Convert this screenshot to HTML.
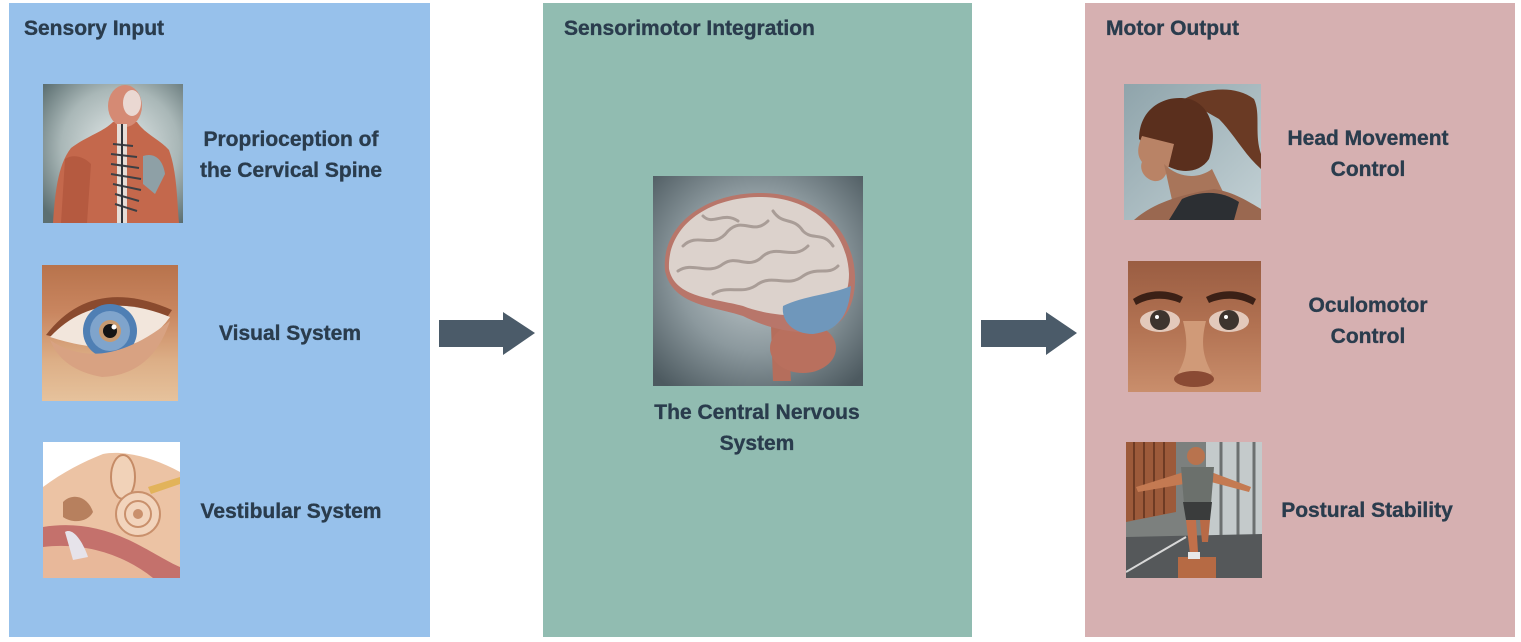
<!DOCTYPE html>
<html><head><meta charset="utf-8"><style>
html,body{margin:0;padding:0;background:#fff;}
body{width:1521px;height:642px;position:relative;overflow:hidden;font-family:"Liberation Sans",Arial,sans-serif;}
.panel{position:absolute;top:3px;height:634px;}
.t{position:absolute;font-weight:bold;font-size:21px;color:#2a3c4d;white-space:nowrap;-webkit-text-stroke:0.35px #2a3c4d;}
.title{line-height:24px;}
.lbl{text-align:center;line-height:31px;transform:translateX(-50%);}
svg{position:absolute;display:block;}
</style></head><body>

<div class="panel" style="left:9px;width:421px;background:#97c1eb;"></div>
<div class="panel" style="left:543px;width:429px;background:#91bcb1;"></div>
<div class="panel" style="left:1085px;width:430px;background:#d6b0b1;"></div>

<div class="t title" style="left:24px;top:17px;">Sensory Input</div>
<div class="t title" style="left:564px;top:17px;">Sensorimotor Integration</div>
<div class="t title" style="left:1106px;top:17px;">Motor Output</div>

<div class="t lbl" style="left:291px;top:124px;">Proprioception of<br>the Cervical Spine</div>
<div class="t lbl" style="left:290px;top:318px;">Visual System</div>
<div class="t lbl" style="left:291px;top:496px;">Vestibular System</div>
<div class="t lbl" style="left:757px;top:397px;">The Central Nervous<br>System</div>
<div class="t lbl" style="left:1368px;top:123px;">Head Movement<br>Control</div>
<div class="t lbl" style="left:1368px;top:290px;">Oculomotor<br>Control</div>
<div class="t lbl" style="left:1367px;top:495px;">Postural Stability</div>

<!-- arrows -->
<svg style="left:0;top:0" width="1521" height="642">
<polygon points="439,320 503,320 503,312 535,333 503,355 503,347 439,347" fill="#4b5b69"/>
<polygon points="981,320 1046,320 1046,312 1077,333 1046,355 1046,347 981,347" fill="#4b5b69"/>
</svg>

<!-- spine image -->
<svg style="left:43px;top:84px" width="140" height="139" viewBox="0 0 140 139">
<defs><radialGradient id="g1" cx="55%" cy="45%" r="70%"><stop offset="0" stop-color="#e4eaea"/><stop offset="0.6" stop-color="#a9b7b7"/><stop offset="1" stop-color="#5c6f71"/></radialGradient></defs>
<rect width="140" height="139" fill="url(#g1)"/>
<path d="M10 139 C12 112 14 82 28 64 C44 52 60 48 70 38 L94 38 C102 50 116 55 126 66 C134 88 134 116 136 139 Z" fill="#c4684c"/>
<path d="M22 75 C30 70 40 72 48 80 L44 139 L18 139 Z" fill="#b55a40"/>
<path d="M100 72 C112 68 120 76 122 90 L112 110 L100 100 Z" fill="#8ea0a6"/>
<ellipse cx="82" cy="22" rx="17" ry="21" fill="#d58a74"/>
<ellipse cx="89" cy="19" rx="9" ry="13" fill="#ead8d2"/>
<rect x="74" y="40" width="10" height="99" fill="#e6ddd6"/>
<g stroke="#3c3f44" stroke-width="2">
<line x1="70" y1="60" x2="90" y2="62"/><line x1="68" y1="70" x2="94" y2="73"/><line x1="68" y1="80" x2="96" y2="84"/><line x1="68" y1="90" x2="98" y2="95"/><line x1="70" y1="100" x2="98" y2="106"/><line x1="72" y1="110" x2="96" y2="117"/><line x1="72" y1="120" x2="94" y2="127"/>
</g>
<line x1="79" y1="40" x2="79" y2="139" stroke="#2f3338" stroke-width="2"/>
</svg>

<!-- eye image -->
<svg style="left:42px;top:265px" width="136" height="136" viewBox="0 0 136 136">
<defs><linearGradient id="g2" x1="0" y1="0" x2="0" y2="1"><stop offset="0" stop-color="#b8734c"/><stop offset="0.35" stop-color="#c98660"/><stop offset="0.7" stop-color="#dcae86"/><stop offset="1" stop-color="#e6c29c"/></linearGradient></defs>
<rect width="136" height="136" fill="url(#g2)"/>
<path d="M4 70 Q50 10 130 45 Q100 95 4 70Z" fill="#8a4a2e"/>
<path d="M8 72 Q55 22 128 52 Q95 100 8 72Z" fill="#f2e6dc"/>
<circle cx="68" cy="66" r="27" fill="#4f7fb4"/>
<circle cx="68" cy="66" r="20" fill="#7fa4cc"/>
<circle cx="68" cy="66" r="11" fill="#c79a70"/>
<circle cx="68" cy="66" r="7" fill="#141414"/>
<circle cx="72" cy="62" r="2.5" fill="#fff"/>
<path d="M8 75 Q60 110 128 56 Q110 110 60 112 Q20 105 8 75Z" fill="#d8a282"/>
</svg>

<!-- ear image -->
<svg style="left:43px;top:442px" width="137" height="136" viewBox="0 0 137 136">
<rect width="137" height="136" fill="#ffffff"/>
<path d="M0 45 C20 30 40 20 60 12 C80 8 110 15 137 30 L137 136 L0 136 Z" fill="#ecc3a4"/>
<path d="M0 85 C30 80 60 85 90 100 C110 110 125 120 137 125 L137 136 L0 136 Z" fill="#c4716c"/>
<path d="M0 105 C40 100 80 112 110 136 L0 136 Z" fill="#e8b89a"/>
<path d="M20 60 C30 50 45 55 50 70 C45 80 30 82 20 75 Z" fill="#b7805e"/>
<ellipse cx="80" cy="35" rx="12" ry="22" fill="#f1d2b8" stroke="#c58b66" stroke-width="2"/>
<circle cx="95" cy="72" r="22" fill="#f2d4bc" stroke="#c9906c" stroke-width="2"/>
<circle cx="95" cy="72" r="13" fill="none" stroke="#c9906c" stroke-width="2"/>
<circle cx="95" cy="72" r="5" fill="#c9906c"/>
<path d="M105 45 L137 35 L137 42 L108 52 Z" fill="#e2b35a"/>
<path d="M22 90 C30 85 40 100 45 115 L30 118 Z" fill="#e6e3ea"/>
</svg>

<!-- brain image -->
<svg style="left:653px;top:176px" width="210" height="210" viewBox="0 0 210 210">
<defs><radialGradient id="g3" cx="50%" cy="45%" r="70%"><stop offset="0" stop-color="#c6cfd1"/><stop offset="0.55" stop-color="#8c999e"/><stop offset="1" stop-color="#4d5a60"/></radialGradient></defs>
<rect width="210" height="210" fill="url(#g3)"/>
<path d="M118 150 L135 150 L138 205 L120 205 Z" fill="#b56e5c"/>
<ellipse cx="150" cy="172" rx="33" ry="25" fill="#b9705e"/>
<path d="M12 95 C8 50 50 18 105 17 C160 16 200 50 202 100 C203 130 190 150 170 155 C140 160 110 150 90 140 C60 130 20 130 12 95Z" fill="#b8766a"/>
<path d="M16 93 C14 52 52 22 105 21 C156 20 194 52 196 98 C196 120 186 135 170 138 C140 142 110 138 90 130 C60 122 22 122 16 93Z" fill="#dcd2cc"/>
<path d="M130 130 C150 120 180 118 198 110 C196 140 185 155 160 158 C140 158 128 145 130 130Z" fill="#6f97bb"/>
<g fill="none" stroke="#a99d97" stroke-width="3" stroke-linecap="round">
<path d="M30 70 C45 55 60 75 75 55 C90 40 100 60 115 45"/>
<path d="M25 95 C40 85 55 100 70 88 C85 78 95 95 110 80 C125 68 140 85 155 70"/>
<path d="M60 118 C75 108 90 120 105 108 C120 98 135 112 150 100 C165 90 175 100 185 90"/>
<path d="M120 35 C130 50 140 40 150 55 C160 65 170 55 180 70"/>
<path d="M50 40 C60 50 70 35 85 45"/>
</g>
</svg>

<!-- head movement image -->
<svg style="left:1124px;top:84px" width="137" height="136" viewBox="0 0 137 136">
<defs><linearGradient id="g4" x1="0" y1="0" x2="1" y2="1"><stop offset="0" stop-color="#8fa4ab"/><stop offset="1" stop-color="#c3d1d5"/></linearGradient></defs>
<rect width="137" height="136" fill="url(#g4)"/>
<path d="M60 15 C80 5 110 0 130 15 C137 30 130 50 137 70 L137 85 C120 70 110 50 95 35 Z" fill="#6a3a24"/>
<path d="M15 55 C15 25 40 10 65 15 C85 20 95 45 85 75 C75 90 55 90 40 80 Z" fill="#5a2f1d"/>
<path d="M18 52 C14 62 12 70 18 78 C15 85 20 95 30 97 C38 98 42 92 44 85 L50 60 Z" fill="#b98366"/>
<path d="M40 80 C55 95 75 95 88 85 L100 110 L50 125 Z" fill="#a8755a"/>
<path d="M10 136 C30 118 60 110 90 105 C110 108 125 118 137 125 L137 136 Z" fill="#9a6850"/>
<path d="M45 136 L58 115 C80 105 100 108 115 118 L110 136 Z" fill="#2c2f33"/>
</svg>

<!-- oculomotor image -->
<svg style="left:1128px;top:261px" width="133" height="131" viewBox="0 0 133 131">
<defs><linearGradient id="g5" x1="0" y1="0" x2="0" y2="1"><stop offset="0" stop-color="#9a5d42"/><stop offset="0.5" stop-color="#b27252"/><stop offset="1" stop-color="#c98e6c"/></linearGradient></defs>
<rect width="133" height="131" fill="url(#g5)"/>
<path d="M5 38 C20 28 40 28 55 36 L52 42 C38 36 22 36 8 44Z" fill="#3b2016"/>
<path d="M78 36 C93 28 113 28 128 38 L125 44 C111 36 95 36 81 42Z" fill="#3b2016"/>
<ellipse cx="32" cy="60" rx="20" ry="11" fill="#e3c9bb"/>
<ellipse cx="101" cy="60" rx="20" ry="11" fill="#e3c9bb"/>
<circle cx="32" cy="59" r="10" fill="#3d342e"/>
<circle cx="101" cy="59" r="10" fill="#3d342e"/>
<circle cx="29" cy="56" r="2" fill="#fff"/>
<circle cx="98" cy="56" r="2" fill="#fff"/>
<path d="M55 60 C60 80 60 95 50 112 C60 118 75 118 84 112 C74 95 73 80 78 60Z" fill="#d09a78"/>
<ellipse cx="66" cy="118" rx="20" ry="8" fill="#8a4a34"/>
</svg>

<!-- postural image -->
<svg style="left:1126px;top:442px" width="136" height="136" viewBox="0 0 136 136">
<rect width="136" height="136" fill="#7c807e"/>
<path d="M0 0 L50 0 L50 70 L0 80 Z" fill="#9c5a3a"/>
<g stroke="#6e3b24" stroke-width="2"><line x1="8" y1="0" x2="8" y2="78"/><line x1="18" y1="0" x2="18" y2="76"/><line x1="28" y1="0" x2="28" y2="74"/><line x1="38" y1="0" x2="38" y2="72"/></g>
<path d="M80 0 L136 0 L136 95 L80 95 Z" fill="#c4cacb"/>
<g stroke="#6c7070" stroke-width="3"><line x1="95" y1="0" x2="95" y2="95"/><line x1="112" y1="0" x2="112" y2="95"/><line x1="128" y1="0" x2="128" y2="95"/></g>
<path d="M0 95 L136 92 L136 136 L0 136 Z" fill="#55585a"/>
<line x1="0" y1="130" x2="60" y2="95" stroke="#d8d8d8" stroke-width="2"/>
<rect x="52" y="115" width="38" height="21" fill="#b66a44"/>
<path d="M10 45 L58 30 L85 30 L125 45 L123 50 L85 40 L58 42 L12 50Z" fill="#c47a52"/>
<circle cx="70" cy="14" r="9" fill="#b8734e"/>
<path d="M55 25 L88 25 L85 62 L58 62Z" fill="#6b706c"/>
<path d="M57 60 L86 60 L84 78 L60 78Z" fill="#3a3c3c"/>
<path d="M60 78 L70 78 L72 110 L64 112Z" fill="#c2704a"/>
<path d="M74 78 L84 78 L82 100 L76 100Z" fill="#b86a46"/>
<rect x="62" y="110" width="12" height="7" fill="#e8e8e8"/>
</svg>

</body></html>
